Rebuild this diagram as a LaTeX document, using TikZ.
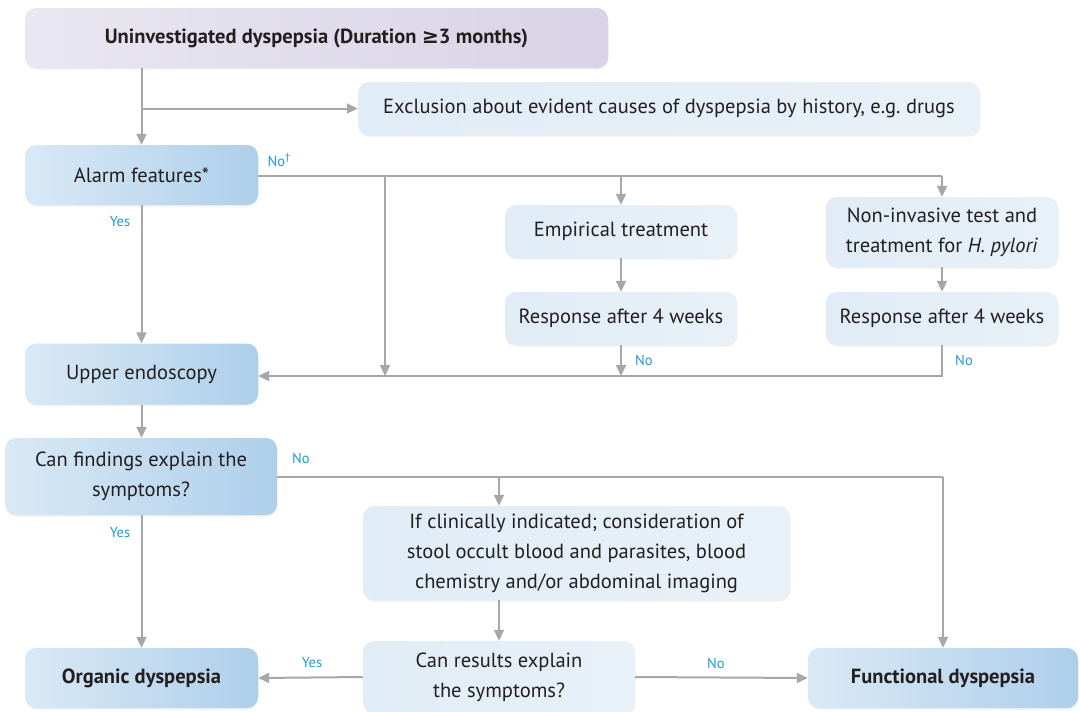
\documentclass[tikz,border=0pt]{standalone}
\usepackage{fontspec}
\setmainfont{PT Sans}
\newfontfamily\symf{DejaVu Sans}
\usetikzlibrary{arrows.meta,shadows}
\definecolor{txt}{HTML}{231F20}
\definecolor{linec}{HTML}{A7A7A7}
\definecolor{labc}{HTML}{1F9AD6}
\definecolor{bluel}{HTML}{D9E9F6}
\definecolor{blued}{HTML}{AECFEA}
\definecolor{lightl}{HTML}{E0ECF6}
\definecolor{lightr}{HTML}{E9F1F8}
\definecolor{purl}{HTML}{E9E7F1}
\definecolor{purd}{HTML}{D8D3E6}
\tikzset{
  base/.style={rounded corners=11pt, draw=none, text=txt, align=center, inner sep=0pt,
    font=\fontsize{20.5}{30}\selectfont,
    drop shadow={opacity=0.12, shadow xshift=0.5pt, shadow yshift=-1.5pt}},
  dark/.style={base, left color=bluel, right color=blued},
  light/.style={base, left color=lightl, right color=lightr},
  topbox/.style={base, left color=purl, right color=purd},
  conn/.style={draw=linec, line width=2pt, -{Triangle[length=11pt,width=10pt]}},
  plain/.style={draw=linec, line width=2pt},
  lab/.style={text=labc, font=\fontsize{14.5}{16}\selectfont, inner sep=0pt}
}
\begin{document}
\begin{tikzpicture}[x=1pt,y=-1pt]
\useasboundingbox (0,0) rectangle (1080,712);
% nodes
\node[topbox, minimum width=583pt, minimum height=60pt] (t) at (316.5,38) {\textbf{Uninvestigated dyspepsia (Duration {\symf ≥}3 months)}};
\node[light, minimum width=622pt, minimum height=53pt] (ex) at (669,108.5) {Exclusion about evident causes of dyspepsia by history, e.g.\ drugs};
\node[dark, minimum width=233pt, minimum height=60pt] (a) at (141.5,175) {Alarm features*};
\node[light, minimum width=232pt, minimum height=53pt] (em) at (621,231.5) {Empirical treatment};
\node[light, minimum width=232pt, minimum height=70pt] (ni) at (942,232) {Non-invasive test and\\treatment for \textit{H. pylori}};
\node[light, minimum width=232pt, minimum height=53pt] (r1) at (621,318.5) {Response after 4 weeks};
\node[light, minimum width=232pt, minimum height=53pt] (r2) at (942,318.5) {Response after 4 weeks};
\node[dark, minimum width=233pt, minimum height=61pt] (ue) at (141.5,374) {Upper endoscopy};
\node[dark, minimum width=272pt, minimum height=77pt] (cf) at (141,476.5) {Can findings explain the\\symptoms?};
\node[light, minimum width=427pt, minimum height=94pt] (ci) at (576.5,553) {If clinically indicated; consideration of\\stool occult blood and parasites, blood\\chemistry and/or abdominal imaging};
\node[dark, minimum width=233pt, minimum height=60pt] (od) at (141.5,678) {\textbf{Organic dyspepsia}};
\node[light, minimum width=272pt, minimum height=72pt] (cr) at (499,677) {Can results explain\\the symptoms?};
\node[dark, minimum width=270pt, minimum height=60pt] (fd) at (943,678) {\textbf{Functional dyspepsia}};
% helper coordinates
\coordinate (j1) at (a.north |- ex.west);
\coordinate (m1) at (385,176);
\coordinate (m2) at (385,376);
\coordinate (ht) at (ni.north |- m1);
\coordinate (hb) at (r2.south |- m2);
\coordinate (hc) at (fd.north |- cf.east);
% connectors
\draw[conn] (t.south -| a.north) -- (a.north);
\draw[conn] (j1) -- (ex.west);
\draw[plain] (a.east |- m1) -- (ht);
\draw[conn] (ht) -- (ni.north);
\draw[conn] (em.north |- m1) -- (em.north);
\draw[conn] (m1) -- (m2);
\draw[conn] (em.south) -- (r1.north);
\draw[conn] (ni.south) -- (r2.north);
\draw[conn] (r1.south) -- (r1.south |- m2);
\draw[conn] (r2.south) -- (hb) -- (ue.east |- m2);
\draw[conn] (a.south) -- (ue.north);
\draw[conn] (ue.south) -- (cf.north -| ue.south);
\draw[plain] (cf.east) -- (hc);
\draw[conn] (hc) -- (fd.north);
\draw[conn] (cr.north |- cf.east) -- (cr.north |- ci.north);
\draw[conn] (cr.north |- ci.south) -- (cr.north);
\draw[conn] (cf.south -| a.south) -- (od.north);
\draw[conn] (cr.west) -- (od.east);
\draw[conn] (cr.east) -- (fd.west);
% labels
\node[lab] (l1) at (120,222) {Yes};
\node[lab] (l2) at (279,160) {No\textsuperscript{†}};
\node[lab] (l3) at (644,360) {No};
\node[lab] (l4) at (964,360) {No};
\node[lab] (l5) at (301,458) {No};
\node[lab] (l6) at (120,533) {Yes};
\node[lab] (l7) at (312,663) {Yes};
\node[lab] (l8) at (716,663) {No};
\end{tikzpicture}
\end{document}
